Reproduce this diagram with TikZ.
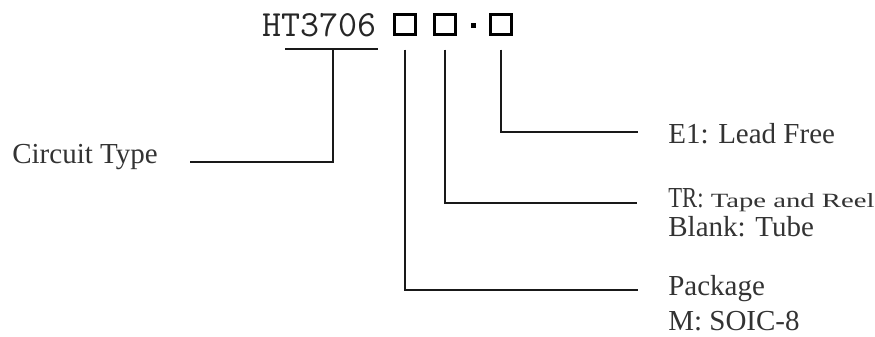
\documentclass[tikz,border=0pt]{standalone}
\usepackage{fontspec}
\setmainfont{Liberation Serif}
\usepackage{graphicx}
\usetikzlibrary{positioning}

\begin{document}
\begin{tikzpicture}[
    x=0.02cm, y=-0.02cm,
    partno/.style={
        anchor=base west,
        inner sep=0pt,
        font=\ttfamily\fontsize{21}{24}\selectfont,
        text=black!85
    },
    codebox/.style={
        draw,
        line width=1.5pt,
        minimum width=0.41cm,
        minimum height=0.39cm,
        inner sep=0pt
    },
    sepdot/.style={fill, minimum size=0.1cm, inner sep=0pt},
    optext/.style={
        anchor=base west,
        inner sep=0pt,
        font=\fontsize{16.5}{20}\selectfont,
        text=black!80
    },
    wire/.style={line width=1.5pt, black!90}
]
    \useasboundingbox (0,0) rectangle (875,336);

    \node[partno] (ht) at (262,36) {HT3706};
    \node[codebox] (b1) at (405,24.5) {};
    \node[codebox] (b2) at (445,24.5) {};
    \node[sepdot] (dash) at (473,25.5) {};
    \node[codebox] (b3) at (501,24.5) {};

    \node[optext] (ctype) at (12,163) {Circuit Type};
    \node[optext] (lead) at (668,143) {E1: Lead Free};
    \node[optext] (tape) at (668,207) {\scalebox{0.78}[1]{TR:} \scalebox{1.42}[1]{\fontsize{11.5}{14}\selectfont Tape and Reel}};
    \node[optext] (blank) at (668,236) {Blank: Tube};
    \node[optext] (pkg) at (668,295) {Package};
    \node[optext] (soic) at (668,330) {M: SOIC-8};

    \coordinate (ul) at (285,49);
    \coordinate (ur) at (378,49);
    \coordinate (um) at (333,49);
    \coordinate (ctend) at (190,162);
    \coordinate (leadend) at (638,132);
    \coordinate (tapeend) at (637,203);
    \coordinate (pkgend) at (638,290);

    \draw[wire] (ul) -- (ur);
    \draw[wire] (um) |- (ctend);
    \draw[wire] ([yshift=-0.28cm]b3.south) |- (leadend);
    \draw[wire] ([yshift=-0.28cm]b2.south) |- (tapeend);
    \draw[wire] ([yshift=-0.28cm]b1.south) |- (pkgend);
\end{tikzpicture}
\end{document}
